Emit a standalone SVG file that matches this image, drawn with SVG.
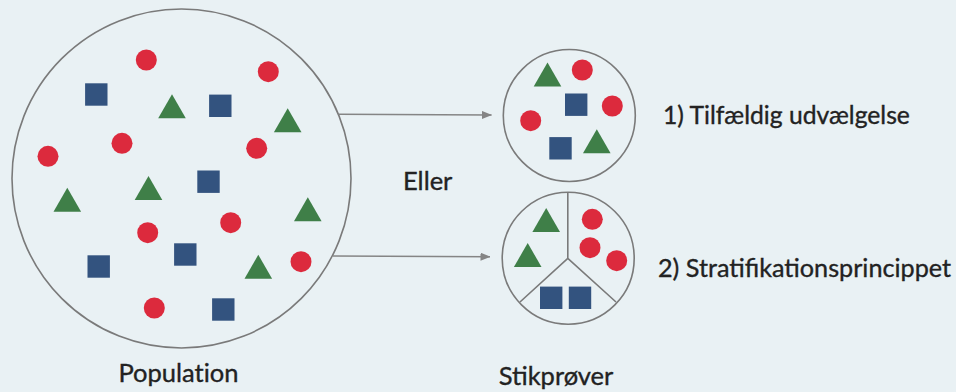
<svg xmlns="http://www.w3.org/2000/svg" width="956" height="392" viewBox="0 0 956 392">
  <defs>
    <style>
      .ring { fill: none; stroke: #7a7a7a; stroke-width: 1.6; }
      .div { stroke: #7a7a7a; stroke-width: 1.6; fill: none; }
      .r { fill: #dc2a3d; }
      .b { fill: #33537f; }
      .g { fill: #3f7f48; }
      .lbl { font-family: Lato, "Open Sans", "Liberation Sans", sans-serif; fill: #222; stroke: #222; stroke-width: 0.35; }
      .nolig { font-variant-ligatures: none; }
      .conn { stroke: #858585; stroke-width: 1.6; fill: none; }
    </style>
    <marker id="arrow" markerWidth="10" markerHeight="8" refX="9.5" refY="4" orient="auto" markerUnits="userSpaceOnUse">
      <path d="M0,0 L10,4 L0,8 Z" fill="#858585"/>
    </marker>
    <circle id="dot" r="10.5"/>
    <rect id="sq" x="-11.2" y="-11.2" width="22.4" height="22.4"/>
    <path id="tri" d="M0,-12 L13.8,12 L-13.8,12 Z"/>
  </defs>

  <rect width="956" height="392" fill="#e9f1f4"/>

  <!-- Population -->
  <g id="population">
    <circle class="ring" cx="181.5" cy="178.5" r="169.5"/>
    <use href="#dot" class="r" x="146.3" y="60"/>
    <use href="#dot" class="r" x="268.3" y="71.7"/>
    <use href="#sq" class="b" x="96.3" y="94.5"/>
    <use href="#tri" class="g" x="172" y="106.3"/>
    <use href="#sq" class="b" x="220.3" y="105.8"/>
    <use href="#tri" class="g" x="287.7" y="120.3"/>
    <use href="#dot" class="r" x="122" y="143.3"/>
    <use href="#dot" class="r" x="48" y="156.3"/>
    <use href="#dot" class="r" x="256.7" y="148.3"/>
    <use href="#sq" class="b" x="208.5" y="181.7"/>
    <use href="#tri" class="g" x="148.5" y="188"/>
    <use href="#tri" class="g" x="67.3" y="199.7"/>
    <use href="#tri" class="g" x="307.8" y="209.2"/>
    <use href="#dot" class="r" x="147.7" y="232.7"/>
    <use href="#dot" class="r" x="230.7" y="222.7"/>
    <use href="#sq" class="b" x="185.3" y="254.5"/>
    <use href="#sq" class="b" x="98.7" y="266.5"/>
    <use href="#tri" class="g" x="258.3" y="266.8"/>
    <use href="#dot" class="r" x="301" y="261.7"/>
    <use href="#dot" class="r" x="154.3" y="308"/>
    <use href="#sq" class="b" x="223.3" y="309.5"/>
    <text class="lbl nolig" x="178.5" y="381.5" font-size="25.5" text-anchor="middle">Population</text>
  </g>

  <!-- Sample 1: random selection -->
  <g id="sample-random">
    <circle class="ring" cx="569.3" cy="115.5" r="66"/>
    <use href="#tri" class="g" x="547.5" y="74.5"/>
    <use href="#dot" class="r" x="582.3" y="70"/>
    <use href="#sq" class="b" x="576.2" y="104.7"/>
    <use href="#dot" class="r" x="612.3" y="106"/>
    <use href="#dot" class="r" x="530.7" y="120.7"/>
    <use href="#sq" class="b" x="560.5" y="148.3"/>
    <use href="#tri" class="g" x="596.8" y="141.3"/>
    <text class="lbl" x="663" y="124.3" font-size="24.7">1) Tilfældig udvælgelse</text>
  </g>

  <!-- Sample 2: stratified -->
  <g id="sample-strata">
    <circle class="ring" cx="568.2" cy="258.2" r="66"/>
    <path class="div" d="M567.8,192.2 V258.3 M567.8,258.3 L520,302 M567.8,258.3 L616,302"/>
    <use href="#tri" class="g" x="546.2" y="220"/>
    <use href="#tri" class="g" x="527.7" y="255"/>
    <use href="#dot" class="r" x="592.3" y="219.3"/>
    <use href="#dot" class="r" x="590" y="247.7"/>
    <use href="#dot" class="r" x="616.7" y="260.7"/>
    <use href="#sq" class="b" x="551.2" y="297.8"/>
    <use href="#sq" class="b" x="580" y="297.8"/>
    <text class="lbl" x="658" y="277.3" font-size="25.2">2) Stratifikationsprincippet</text>
    <text class="lbl" x="556" y="385" font-size="25.5" text-anchor="middle">Stikprøver</text>
  </g>

  <!-- Connectors -->
  <g id="connectors">
    <line class="conn" x1="338.5" y1="114.2" x2="491.5" y2="115" marker-end="url(#arrow)"/>
    <line class="conn" x1="333" y1="256" x2="490" y2="256.7" marker-end="url(#arrow)"/>
    <text class="lbl" x="403" y="190" font-size="25.5">Eller</text>
  </g>
</svg>
